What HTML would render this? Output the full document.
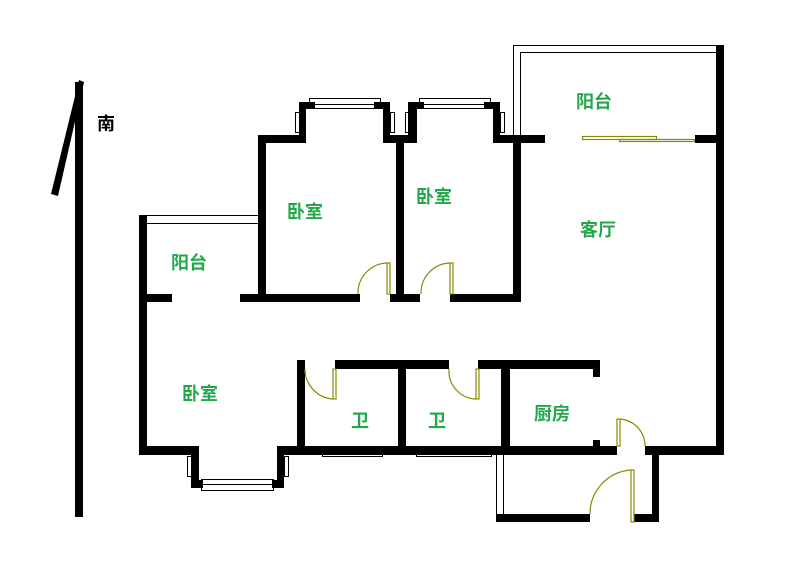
<!DOCTYPE html>
<html><head><meta charset="utf-8"><style>
html,body{margin:0;padding:0;background:#fff;width:799px;height:572px;overflow:hidden}
svg{display:block}
text{font-family:"Liberation Sans","Noto Sans CJK SC",sans-serif;font-weight:bold;font-size:18px;fill:#22a84a}
</style></head><body>
<svg width="799" height="572" viewBox="0 0 799 572" xmlns="http://www.w3.org/2000/svg">
<!-- north arrow -->
<rect x="75" y="82" width="8" height="435" fill="#000"/>
<polygon points="79,80 84,82 58,196 51,194" fill="#000"/>
<text x="97" y="130" style="fill:#000">南</text>

<g fill="#000">
<!-- left outer wall -->
<rect x="139" y="215" width="8" height="240"/>
<!-- left balcony bottom wall -->
<rect x="139" y="294" width="33" height="8"/>
<rect x="240" y="294" width="120" height="8"/>
<!-- bedroom1 -->
<rect x="258" y="135" width="8" height="167"/>
<rect x="258" y="135" width="48" height="8"/>
<rect x="299" y="102" width="7" height="41"/>
<rect x="299" y="102" width="16" height="7"/>
<rect x="374" y="102" width="16" height="7"/>
<rect x="383" y="102" width="7" height="41"/>
<rect x="383" y="135" width="34" height="8"/>
<rect x="396" y="135" width="8" height="167"/>
<rect x="390" y="294" width="30" height="8"/>
<!-- bedroom2 bay -->
<rect x="408" y="102" width="9" height="41"/>
<rect x="408" y="102" width="16" height="7"/>
<rect x="484" y="102" width="16" height="7"/>
<rect x="493" y="102" width="7" height="41"/>
<rect x="493" y="135" width="52" height="8"/>
<rect x="450" y="294" width="71" height="8"/>
<rect x="513" y="135" width="8" height="167"/>
<!-- living right -->
<rect x="716" y="45" width="8" height="410"/>
<rect x="695" y="135" width="29" height="8"/>
<!-- corridor / baths -->
<rect x="297" y="360" width="8" height="95"/>
<rect x="335" y="360" width="114" height="9"/>
<rect x="478" y="360" width="122" height="9"/>
<rect x="398" y="360" width="8" height="95"/>
<rect x="501" y="360" width="9" height="95"/>
<rect x="593" y="360" width="7" height="17"/>
<rect x="593" y="440" width="7" height="15"/>
<!-- bottom wall -->
<rect x="139" y="446" width="60" height="9"/>
<rect x="277" y="446" width="340" height="9"/>
<rect x="645" y="446" width="79" height="9"/>
<!-- bedroom bay bottom -->
<rect x="191" y="446" width="8" height="42"/>
<rect x="277" y="446" width="7" height="42"/>
<rect x="191" y="480" width="12" height="8"/>
<rect x="272" y="480" width="12" height="8"/>
<!-- lower utility -->
<rect x="496" y="514" width="94" height="8"/>
<rect x="634" y="514" width="25" height="8"/>
<rect x="652" y="455" width="7" height="67"/>
</g>

<g fill="none" stroke="#000" stroke-width="1">
<!-- left balcony rails -->
<line x1="147" y1="215.5" x2="258" y2="215.5"/>
<line x1="147" y1="223.5" x2="258" y2="223.5"/>
<!-- top balcony rails -->
<polyline points="513.5,135 513.5,45.5 716,45.5"/>
<polyline points="520.5,135 520.5,52.5 716,52.5"/>
<!-- bedroom1 window -->
<rect x="309.5" y="98.5" width="71" height="10"/>
<line x1="315" y1="104.5" x2="374" y2="104.5"/>
<rect x="295.5" y="112.5" width="4" height="20"/>
<rect x="390.5" y="112.5" width="4" height="20"/>
<!-- bedroom2 window -->
<rect x="419.5" y="98.5" width="71" height="10"/>
<line x1="424" y1="104.5" x2="484" y2="104.5"/>
<rect x="405.5" y="112.5" width="3" height="20"/>
<rect x="500.5" y="112.5" width="4" height="20"/>
<!-- bath windows -->
<rect x="322.5" y="446.5" width="60" height="10"/>
<line x1="326" y1="451.5" x2="379" y2="451.5"/>
<rect x="416.5" y="446.5" width="75" height="10"/>
<line x1="420" y1="451.5" x2="488" y2="451.5"/>
<rect x="516.5" y="446.5" width="66" height="8"/>
<line x1="516" y1="450.5" x2="582" y2="450.5"/>
<!-- bedroom bay window -->
<rect x="201.5" y="479.5" width="72" height="11"/>
<line x1="203" y1="484.5" x2="272" y2="484.5"/>
<rect x="187.5" y="456.5" width="4" height="20"/>
<rect x="284.5" y="456.5" width="4" height="20"/>
<!-- lower utility left rails -->
<line x1="496.5" y1="455" x2="496.5" y2="514"/>
<line x1="503.5" y1="455" x2="503.5" y2="514"/>
</g>

<g fill="none" stroke="#8a8a00" stroke-width="1.2">
<!-- sliding door -->
<rect x="582.5" y="136.5" width="74" height="3"/>
<rect x="619.5" y="139.5" width="75" height="2"/>
<!-- bedroom doors -->
<rect x="387" y="263" width="3" height="31"/>
<path d="M387,263 A30,30 0 0 0 358,294"/>
<rect x="450" y="263" width="3" height="31"/>
<path d="M450,263 A30,30 0 0 0 421,294"/>
<!-- bath doors -->
<rect x="333" y="369" width="3" height="30"/>
<path d="M305,369 A30,30 0 0 0 333,399"/>
<rect x="476" y="369" width="3" height="30"/>
<path d="M449,369 A28,28 0 0 0 476,399"/>
<!-- kitchen exit door -->
<rect x="617" y="419" width="3" height="27"/>
<path d="M620,419 A27,27 0 0 1 645,446"/>
<!-- bottom door -->
<rect x="631" y="470" width="3" height="52"/>
<path d="M631,470 A44,44 0 0 0 590,514"/>
</g>

<text x="576" y="108">阳台</text>
<text x="287" y="218">卧室</text>
<text x="416" y="203">卧室</text>
<text x="580" y="236">客厅</text>
<text x="171" y="269">阳台</text>
<text x="182" y="400">卧室</text>
<text x="351" y="427">卫</text>
<text x="428" y="427">卫</text>
<text x="534" y="420">厨房</text>
</svg>
</body></html>
